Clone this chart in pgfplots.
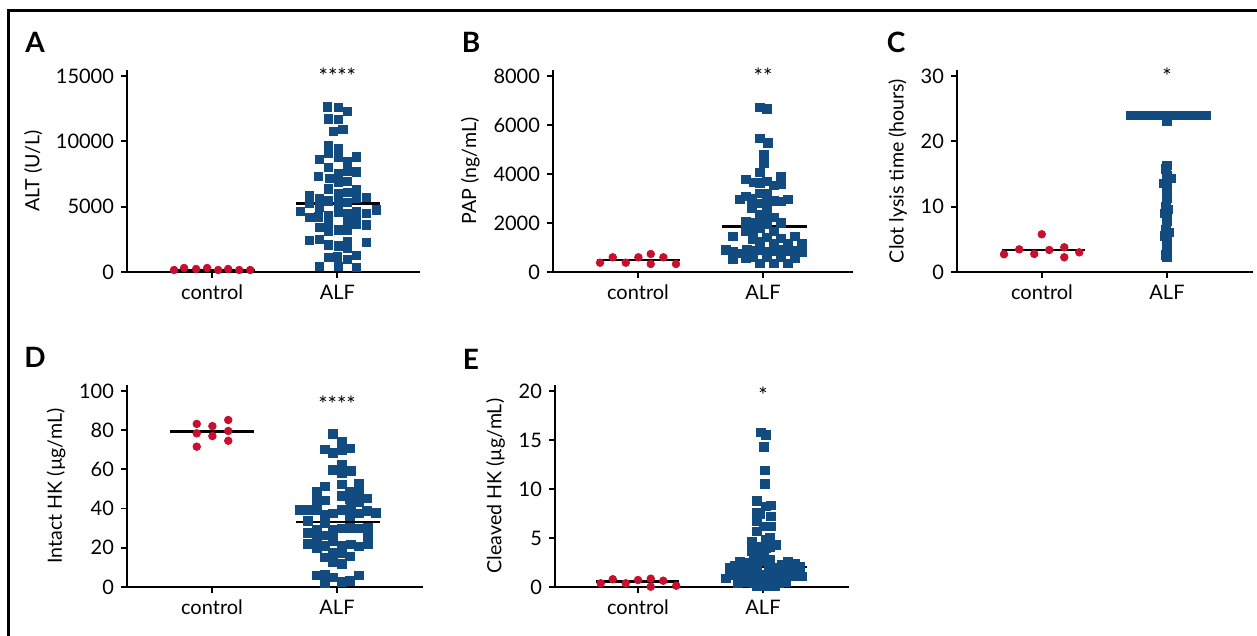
\documentclass[border=0pt]{standalone}
\usepackage{fontspec}
\setmainfont{Lato}
\usepackage{pgfplots}
\pgfplotsset{compat=1.18}
\definecolor{alfblue}{RGB}{17,75,127}
\definecolor{ctrlred}{RGB}{200,16,46}

\pgfplotsset{
  dotpanel/.style={
    scale only axis,
    axis x line=bottom, axis y line=left,
    axis line style={-, line width=1.2pt},
    tick align=outside,
    major tick length=3pt,
    tick style={line width=0.9pt, black},
    xtick={1,2}, xticklabels={control, ALF},
    ymin=0, clip=false,
    scaled y ticks=false,
    tick label style={font=\fontsize{10}{12}\selectfont},
    ylabel style={font=\fontsize{9.8}{11}\selectfont},
    /pgf/number format/assume math mode=true,
    /pgf/number format/1000 sep={},
  },
  ctrl/.style={only marks, mark=*, mark size=1.9pt, color=ctrlred},
  alf/.style={only marks, mark=square*, mark size=2.1pt, color=alfblue},
  med/.style={black, line width=1.4pt, no marks},
}
\tikzset{
  stars/.style={font=\fontsize{11}{10}\selectfont, anchor=north, yshift=3.5pt},
  plabel/.style={font=\bfseries\fontsize{14}{14}\selectfont},
}

\begin{document}
\begin{tikzpicture}
\path[use as bounding box] (0,0) rectangle (628.5pt,318pt);
\draw[line width=1.25pt] (4.25pt,-2pt) -- (4.25pt,312.75pt) -- (632pt,312.75pt);

% A: ALT
\begin{axis}[dotpanel, at={(63.5pt,182pt)}, anchor=south west,
  width=146.5pt, height=101pt, xmin=0.32, xmax=2.66, ymax=15459,
  ytick={0,5000,10000,15000}, ylabel={ALT (U/L)}]
\addplot[ctrl] coordinates {(0.696,153) (0.776,306) (0.872,230) (0.96,306) (1.048,153) (1.128,230) (1.216,153) (1.304,153)};
\addplot[alf] coordinates {
(1.920,12628) (2.008,12577) (2.080,12270)
(1.928,11709) (2.008,11658)
(1.968,10740) (2.045,10893)
(1.928,9669) (1.928,9057) (2.008,9413)
(1.856,8598) (2.008,8751) (2.080,8445) (2.152,8801)
(1.928,7986) (2.008,7500) (2.080,7730) (2.152,7653) (1.848,7297)
(1.936,7143) (2.008,6837) (2.080,6913)
(1.928,6352) (2.008,6020) (2.080,6071) (2.152,6301)
(1.776,5816) (1.776,5255) (1.856,5612) (1.928,5434) (2.008,5893) (2.008,5255) (2.080,5332) (2.152,5638) (2.232,5689)
(1.704,4617) (1.856,4974) (1.928,4311) (2.008,4540) (2.080,4464) (2.152,4617) (2.152,3980) (2.232,4464) (2.312,4745)
(1.776,4158) (1.848,4209) (1.856,3393) (1.928,3648) (1.928,3087) (2.008,3214) (2.080,3775) (2.080,3214) (2.152,3673) (2.232,3597)
(1.776,2398) (1.856,2475) (1.928,2066) (2.008,1990) (2.080,2322) (2.080,1811) (2.232,2245)
(1.928,1097) (2.000,1148) (2.080,944) (2.152,1250)
(1.856,408) (2.008,408) (2.152,332)};
\addplot[med] coordinates {(0.66,150) (1.34,150)};
\addplot[med] coordinates {(1.67,5250) (2.34,5250)};
\node[stars] at (axis cs:2,15590) {****};
\end{axis}

% B: PAP
\begin{axis}[dotpanel, at={(276.5pt,182pt)}, anchor=south west,
  width=150pt, height=101pt, xmin=0.32, xmax=2.72, ymax=8245,
  ytick={0,2000,4000,6000,8000}, ylabel={PAP (ng/mL)}]
\addplot[ctrl] coordinates {(0.696,380) (0.798,600) (0.902,380) (1.003,600) (1.102,735) (1.102,327) (1.203,600) (1.304,327)};
\addplot[alf] coordinates {
(1.976,6708) (2.032,6653)
(1.976,5456) (2.04,5266)
(2.008,4776) (2.008,4449)
(1.976,4068)
(1.864,3769) (1.928,3660) (1.976,3633) (2.032,3687) (2.088,3524) (2.144,3891) (2.144,3579)
(1.976,3197) (2.032,3197) (1.864,3089) (1.816,2953) (1.912,2980) (1.976,2789) (2.032,2898) (2.088,2898) (2.144,2871) (2.2,2953)
(1.912,2599) (1.976,2354) (2.032,2517) (1.976,2136) (2.032,2218) (2.088,2218)
(1.864,2054) (1.92,2000) (1.976,2000) (2.032,1946) (2.144,2000)
(1.864,1674) (1.92,1646) (1.976,1782) (2.088,1646)
(1.76,1442) (1.92,1347) (2.032,1401) (2.144,1374) (2.256,1442)
(1.976,1238) (2.088,1170) (2.2,1170) (2.312,1143)
(1.704,898) (1.76,830) (1.816,762) (1.872,898) (1.92,857) (1.976,898) (2.032,830) (2.088,857) (2.144,898) (2.2,830) (2.256,857) (2.312,803)
(1.76,531) (1.864,558) (1.92,585) (1.976,354) (2.032,585) (2.088,354) (2.144,585) (2.2,354) (2.256,558)};
\addplot[med] coordinates {(0.672,490) (1.336,490)};
\addplot[med] coordinates {(1.67,1870) (2.35,1870)};
\node[stars] at (axis cs:2,8340) {**};
\end{axis}

% C: clot lysis
\begin{axis}[dotpanel, at={(478.5pt,182pt)}, anchor=south west,
  width=148pt, height=101pt, xmin=0.32, xmax=2.688, ymax=30.92,
  ytick={0,10,20,30}, ylabel={Clot lysis time (hours)}]
\addplot[ctrl] coordinates {(0.696,2.71) (0.818,3.47) (0.938,2.76) (1.058,3.37) (1.178,3.78) (1.178,2.25) (1.298,3.01) (0.998,5.77)};
\addplot[alf] coordinates {
(1.71,24) (1.75,24) (1.79,24) (1.83,24) (1.87,24) (1.91,24) (1.95,24) (1.99,24)
(2.03,24) (2.07,24) (2.11,24) (2.15,24) (2.19,24) (2.23,24) (2.27,24) (2.31,24)
(2.0,23.1)
(2.0,16.3) (1.99,15.8) (2.0,14.8) (2.03,14.3) (1.97,13.6) (2.0,13.0) (2.0,12.0) (2.0,11.3)
(1.99,10.0) (2.01,9.6) (1.98,9.0) (2.0,8.5) (2.0,7.8) (1.99,6.5) (2.02,6.1) (1.98,5.5)
(2.0,4.9) (2.0,3.9) (2.0,3.3) (1.99,2.6) (2.0,2.2)};
\addplot[med] coordinates {(0.68,3.37) (1.344,3.37)};
\node[stars] at (axis cs:2,31.27) {*};
\end{axis}

% D: intact HK
\begin{axis}[dotpanel, at={(63.5pt,24.5pt)}, anchor=south west,
  width=148pt, height=101pt, xmin=0.32, xmax=2.688, ymax=103.06,
  ytick={0,20,40,60,80,100}, ylabel={Intact HK (µg/mL)}]
\addplot[ctrl] coordinates {(0.878,83.2) (1.003,82.1) (1.13,85.2) (0.878,78.4) (1.003,77.0) (1.13,79.6) (0.878,71.6) (1.13,74.6)};
\addplot[alf] coordinates {
(1.968,78.1)
(2.04,74.1) (1.904,70.1) (1.968,68.5) (2.04,69.6) (2.104,70.6)
(1.968,59.7) (2.04,62.6) (2.04,58.3) (2.112,59.3)
(1.904,51.2) (1.84,48.6) (2.04,52.4) (2.104,48.6) (2.176,52.6) (2.176,48.6)
(1.84,44.2) (1.904,44.2) (2.04,46.4) (2.104,44.7) (2.176,43.5) (2.24,45.1)
(1.704,39.3) (1.768,39.3) (1.84,39.3) (1.904,36.9) (1.968,37.6) (2.04,39.3) (2.112,40.7) (2.176,37.6) (2.24,38.9) (2.312,37.9)
(1.768,33.8) (1.904,32.5) (2.104,35.9)
(1.84,29.1) (1.968,29.4) (2.04,29.8) (2.104,30.1) (2.176,29.8) (2.248,30.4) (2.248,26.5) (1.768,27.7)
(1.84,24.0) (1.904,26.4) (1.968,25.3) (1.84,19.7) (1.768,21.9) (1.904,20.9) (1.968,23.3) (2.04,20.9) (2.112,21.6) (2.176,20.6) (2.248,21.9)
(1.904,15.1) (1.968,17.5) (1.968,12.9) (2.04,17.2) (2.04,11.7) (2.104,15.5)
(1.84,6.0) (1.904,6.3) (1.968,4.9) (2.04,2.6) (2.104,3.2) (2.176,6.0) (1.904,1.9)};
\addplot[med] coordinates {(0.664,79.5) (1.336,79.5)};
\addplot[med] coordinates {(1.672,33.2) (2.344,33.2)};
\node[stars] at (axis cs:2,97.4) {****};
\end{axis}

% E: cleaved HK
\begin{axis}[dotpanel, at={(277.5pt,24.5pt)}, anchor=south west,
  width=147pt, height=101pt, xmin=0.336, xmax=2.688, ymax=20.61,
  ytick={0,5,10,15,20}, ylabel={Cleaved HK (µg/mL)}]
\addplot[ctrl] coordinates {(0.702,0.38) (0.798,0.79) (0.902,0.38) (1.0,0.71) (1.102,0.85) (1.102,0.03) (1.202,0.64) (1.306,0.13)};
\addplot[alf] coordinates {
(1.984,15.8) (2.024,15.5) (2.008,14.3) (2.016,11.9) (2.016,10.5) (1.952,8.8)
(1.952,7.6) (2.024,8.2) (2.064,8.3) (1.976,7.4)
(1.952,6.7) (2.064,7.2)
(1.952,5.7) (2.008,6.2) (2.064,6.2)
(1.912,4.6) (2.024,4.8) (2.056,5.0)
(1.912,3.7) (1.976,4.1) (2.024,4.0) (2.056,4.1) (2.104,4.3)
(1.952,3.6) (2.008,3.3) (1.928,2.9) (2.056,2.8) (2.008,2.6)
(1.816,2.6) (1.872,2.5) (1.976,2.6) (2.056,2.6) (2.2,2.6) (2.152,2.3) (2.296,2.1) (2.256,2.4)
(1.736,2.0) (1.776,2.2) (1.816,1.9) (1.872,2.0) (1.952,2.0) (2.048,2.0) (2.104,2.0) (2.152,1.9) (2.216,2.0) (2.296,1.9)
(1.704,0.9) (1.736,1.2) (1.8,1.4) (1.856,1.2) (1.92,1.1) (1.992,1.3) (2.072,1.3) (2.136,1.2) (2.2,1.3) (2.256,1.1) (2.312,1.1)
(1.8,0.4) (1.864,0.5) (1.928,0.4) (1.992,0.4) (2.056,0.3) (2.128,0.4) (2.184,0.5)
(1.952,0.05) (2.024,0.1) (2.1,0.05)};
\addplot[med] coordinates {(0.662,0.58) (1.33,0.58)};
\addplot[med] coordinates {(1.71,2.04) (2.35,2.04)};
\node[stars] at (axis cs:2,20.44) {*};
\end{axis}

\node[plabel] at (17.5pt,297pt) {A};
\node[plabel] at (235.5pt,297pt) {B};
\node[plabel] at (448pt,297pt) {C};
\node[plabel] at (17.5pt,139.5pt) {D};
\node[plabel] at (235.5pt,138.5pt) {E};
\end{tikzpicture}
\end{document}
